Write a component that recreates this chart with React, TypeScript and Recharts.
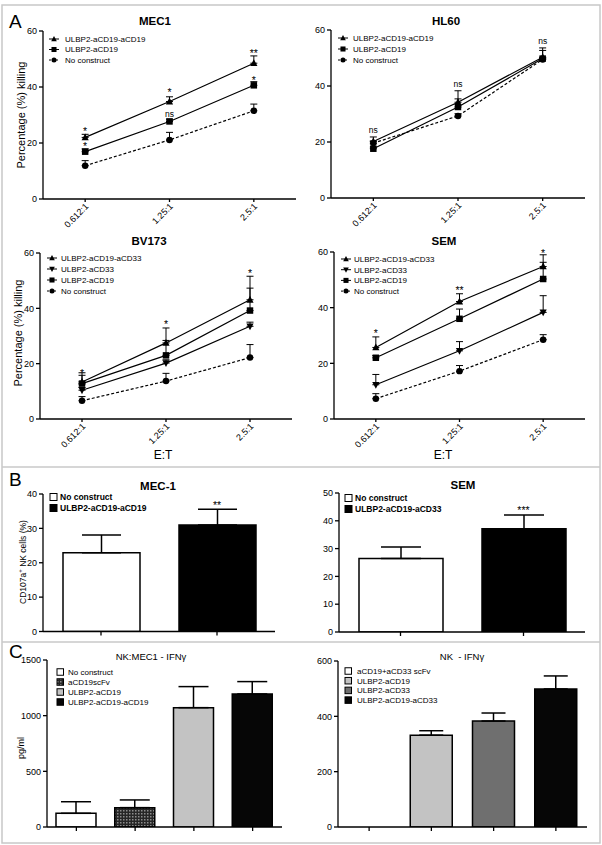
import React from 'react';
import { ComposedChart, Line, Bar, Cell, XAxis, YAxis, ErrorBar, LabelList, Legend } from 'recharts';

const FONT = '"Liberation Sans", Arial, Helvetica, sans-serif';

// ---------------- Panel A data ----------------
const etCategories = ['0.612:1', '1.25:1', '2.5:1'];

const mec1SeriesNames = ['ULBP2-aCD19-aCD19', 'ULBP2-aCD19', 'No construct'];
const mec1Trimer = [22.0, 34.8, 48.5];
const mec1TrimerErr = [1.1, 1.7, 2.6];
const mec1Ulbp19 = [16.9, 27.7, 40.6];
const mec1Ulbp19Err = [1.0, 0.8, 1.3];
const mec1NoConstruct = [11.9, 21.1, 31.5];
const mec1NoConstructErr = [1.8, 2.7, 2.4];
const mec1AnnTop = ['*', '*', '**'];
const mec1AnnTopY = [25.0, 38.9, 52.9];
const mec1AnnLow = ['*', 'ns', '*'];
const mec1AnnLowY = [19.6, 30.2, 43.2];

const hl60SeriesNames = ['ULBP2-aCD19-aCD19', 'ULBP2-aCD19', 'No construct'];
const hl60Trimer = [20.2, 34.2, 50.3];
const hl60TrimerErr = [1.6, 1.2, 3.3];
const hl60Ulbp19 = [17.6, 32.5, 49.8];
const hl60Ulbp19Err = [0.6, 5.8, 2.9];
const hl60NoConstruct = [19.6, 29.3, 49.5];
const hl60NoConstructErr = [0.8, 0.8, 0.6];
const hl60Ann = ['ns', 'ns', 'ns'];
const hl60AnnY = [24.0, 40.4, 55.8];

const bvSeriesNames = ['ULBP2-aCD19-aCD33', 'ULBP2-aCD33', 'ULBP2-aCD19', 'No construct'];
const bvTrimer = [13.4, 27.5, 43.1];
const bvTrimerErr = [3.3, 5.4, 8.5];
const bvUlbp33 = [10.4, 20.2, 33.5];
const bvUlbp33Err = [1.0, 1.2, 1.5];
const bvUlbp19 = [12.8, 23.0, 39.2];
const bvUlbp19Err = [3.0, 5.4, 8.1];
const bvNoConstruct = [6.6, 13.7, 22.2];
const bvNoConstructErr = [1.5, 2.8, 4.7];
const bvAnn = ['*', '*', '*'];
const bvAnnY = [17.6, 35.2, 53.6];

const semSeriesNames = ['ULBP2-aCD19-aCD33', 'ULBP2-aCD33', 'ULBP2-aCD19', 'No construct'];
const semTrimer = [25.7, 42.2, 54.8];
const semTrimerErr = [3.8, 2.8, 4.2];
const semUlbp33 = [12.3, 24.5, 38.3];
const semUlbp33Err = [3.7, 3.3, 6.0];
const semUlbp19 = [22.0, 36.0, 50.3];
const semUlbp19Err = [0.8, 3.5, 6.0];
const semNoConstruct = [7.3, 17.2, 28.5];
const semNoConstructErr = [1.8, 2.0, 1.8];
const semAnn = ['*', '**', '*'];
const semAnnY = [31.7, 47.1, 60.6];

const killingTicks = [0, 20, 40, 60];

// ---------------- Panel B data ----------------
const bMecCategories = ['No construct', 'ULBP2-aCD19-aCD19'];
const bMecValues = [22.9, 31.0];
const bMecErr = [5.2, 4.6];
const bMecAnn = ['', '**'];
const bMecAnnY = [null, 37.5];
const bMecTicks = [0, 10, 20, 30, 40];

const bSemCategories = ['No construct', 'ULBP2-aCD19-aCD33'];
const bSemValues = [26.4, 37.1];
const bSemErr = [4.2, 5.0];
const bSemAnn = ['', '***'];
const bSemAnnY = [null, 44.7];
const bSemTicks = [0, 10, 20, 30, 40, 50];

// ---------------- Panel C data ----------------
const cMecCategories = ['No construct', 'aCD19scFv', 'ULBP2-aCD19', 'ULBP2-aCD19-aCD19'];
const cMecValues = [123, 174, 1072, 1195];
const cMecErr = [104, 69, 189, 111];
const cMecTicks = [0, 500, 1000, 1500];

const cNkCategories = ['aCD19+aCD33 scFv', 'ULBP2-aCD19', 'ULBP2-aCD33', 'ULBP2-aCD19-aCD33'];
const cNkValues = [0, 332, 383, 499];
const cNkErr = [0, 16, 29, 47];
const cNkTicks = [0, 200, 400, 600];

const bFills = ['#ffffff', '#000000'];
const cMecFills = ['#ffffff', 'url(#checkerFill)', '#c3c3c3', '#060606'];
const cNkFills = ['#ffffff', '#c3c3c3', '#6f6f6f', '#060606'];

// ---------------- helpers ----------------
type Shape = 'tri' | 'inv' | 'sq' | 'circ';
interface LineSeries { name: string; shape: Shape; dashed?: boolean; values: number[]; errs: number[] }
interface AnnRow { labels: string[]; ys: (number | null)[] }

const AX = { stroke: '#000', strokeWidth: 1.3 };

function Marker({ cx, cy, shape, s = 3.6 }: { cx: number; cy: number; shape: Shape; s?: number }) {
  if (cx == null || cy == null || isNaN(cx) || isNaN(cy)) return null;
  switch (shape) {
    case 'tri':
      return <polygon points={`${cx},${cy - s * 1.1} ${cx - s},${cy + s * 0.8} ${cx + s},${cy + s * 0.8}`} fill="#000" />;
    case 'inv':
      return <polygon points={`${cx},${cy + s * 1.1} ${cx - s},${cy - s * 0.8} ${cx + s},${cy - s * 0.8}`} fill="#000" />;
    case 'sq':
      return <rect x={cx - s * 0.9} y={cy - s * 0.9} width={s * 1.8} height={s * 1.8} fill="#000" />;
    default:
      return <circle cx={cx} cy={cy} r={s * 0.9} fill="#000" />;
  }
}

const AnnLabel = (props: any) => {
  const { x, y, value } = props;
  if (!value || x == null || y == null || isNaN(y)) return null;
  const star = String(value).includes('*');
  const fs = star ? 10.5 : 8.5;
  const off = star ? 0.6 : 0.27;
  return (
    <text x={x} y={y + off * fs} textAnchor="middle" fontSize={fs} fontFamily={FONT} fill="#000" stroke="none">
      {value}
    </text>
  );
};

const RotTick = (props: any) => {
  const { x, y, payload } = props;
  const bx = x + 4;
  const by = y + 3;
  return (
    <text x={bx} y={by} transform={`rotate(-45 ${bx} ${by})`} textAnchor="end" fontSize={9} fontFamily={FONT} fill="#000">
      {payload.value}
    </text>
  );
};

const EmptyTick = () => <g />;

interface Box { left: number; top: number; width: number; height: number }
interface Plot { left: number; top: number; right: number; xh: number }

function LineLegendSvg({ w, h, items, mx, tx, y0, dy, fs }: any) {
  return (
    <svg width={w} height={h} style={{ overflow: 'visible', display: 'block' }}>
      {items.map((it: LineSeries, i: number) => {
        const y = y0 + i * dy;
        return (
          <g key={i}>
            <line x1={mx - 5} x2={mx + 5} y1={y} y2={y} stroke="#000" strokeWidth={1} strokeDasharray={it.dashed ? '2 1.5' : undefined} />
            <Marker cx={mx} cy={y} shape={it.shape} s={2.8} />
            <text x={tx} y={y} dy="0.35em" fontSize={fs} fontFamily={FONT} fill="#000">{it.name}</text>
          </g>
        );
      })}
    </svg>
  );
}

function BoxLegendSvg({ w, h, names, fills, bx, tx, y0, dy, fs, bs, bold }: any) {
  return (
    <svg width={w} height={h} style={{ overflow: 'visible', display: 'block' }}>
      {names.map((n: string, i: number) => {
        const y = y0 + i * dy;
        return (
          <g key={i}>
            <rect x={bx} y={y - bs / 2} width={bs} height={bs} fill={fills[i]} stroke="#000" strokeWidth={1} />
            <text x={tx} y={y} dy="0.35em" fontSize={fs} fontWeight={bold ? 'bold' : 'normal'} fontFamily={FONT} fill="#000">{n}</text>
          </g>
        );
      })}
    </svg>
  );
}

function KillingChart({ box, plot, series, anns, legend }: { box: Box; plot: Plot; series: LineSeries[]; anns: AnnRow[]; legend: any }) {
  const data = etCategories.map((c, i) => {
    const row: any = { cat: c };
    series.forEach((s, k) => {
      row['s' + k] = s.values[i];
      row['e' + k] = [0, s.errs[i]];
    });
    anns.forEach((a, k) => {
      row['a' + k] = a.ys[i];
      row['t' + k] = a.labels[i];
    });
    return row;
  });
  const order = series.map((s, k) => k).reverse();
  const plotW = box.width - plot.left - plot.right;
  const pad = plotW / (2 * etCategories.length);
  return (
    <div style={{ position: 'absolute', left: box.left, top: box.top }}>
      <ComposedChart width={box.width} height={box.height} data={data} margin={{ top: plot.top, right: plot.right, left: 0, bottom: 0 }}>
        <XAxis
          dataKey="cat"
          height={plot.xh}
          tickSize={3}
          tickMargin={2}
          axisLine={AX}
          tickLine={AX}
          tick={<RotTick />}
          interval={0}
          padding={{ left: pad, right: pad }}
        />
        <YAxis
          width={plot.left}
          domain={[0, 60]}
          ticks={killingTicks}
          allowDataOverflow
          tickSize={4}
          tickMargin={2}
          axisLine={AX}
          tickLine={AX}
          tick={{ fontSize: 9, fill: '#000', fontFamily: FONT }}
          interval={0}
        />
        {order.map((k) => {
          const s = series[k];
          return (
            <Line
              key={'s' + k}
              dataKey={'s' + k}
              name={s.name}
              stroke="#000"
              strokeWidth={1.2}
              strokeDasharray={s.dashed ? '3 2' : undefined}
              dot={(p: any) => <Marker key={`d${k}-${p.index}`} cx={p.cx} cy={p.cy} shape={s.shape} />}
              activeDot={false}
              isAnimationActive={false}
            >
              <ErrorBar dataKey={'e' + k} width={3.5} stroke="#000" strokeWidth={1} direction="y" />
            </Line>
          );
        })}
        {anns.map((a, k) => (
          <Line key={'a' + k} dataKey={'a' + k} stroke="none" dot={false} activeDot={false} isAnimationActive={false} legendType="none">
            <LabelList dataKey={'t' + k} content={AnnLabel} />
          </Line>
        ))}
        <Legend
          layout="vertical"
          align="center"
          verticalAlign="middle"
          wrapperStyle={{ left: 0, top: 0, width: box.width, height: box.height, pointerEvents: 'none' }}
          content={() => <LineLegendSvg w={box.width} h={box.height} items={series} {...legend} />}
        />
      </ComposedChart>
    </div>
  );
}

function BarPanel({ box, plot, cats, values, errs, fills, ann, annY, domain, ticks, barSize, capW, legend }: any) {
  const data = cats.map((c: string, i: number) => ({
    cat: c,
    v: values[i],
    e: [0, errs[i]],
    ay: annY ? annY[i] : null,
    at: ann ? ann[i] : '',
  }));
  return (
    <div style={{ position: 'absolute', left: box.left, top: box.top }}>
      <ComposedChart width={box.width} height={box.height} data={data} margin={{ top: plot.top, right: plot.right, left: 0, bottom: 0 }}>
        <XAxis dataKey="cat" height={plot.xh} tickSize={4} axisLine={AX} tickLine={AX} tick={EmptyTick} interval={0} />
        <YAxis
          width={plot.left}
          domain={domain}
          ticks={ticks}
          allowDataOverflow
          tickSize={4}
          tickMargin={2}
          axisLine={AX}
          tickLine={AX}
          tick={{ fontSize: 9, fill: '#000', fontFamily: FONT }}
          interval={0}
        />
        <Bar dataKey="v" barSize={barSize} stroke="#000" strokeWidth={1.5} isAnimationActive={false}>
          {fills.map((f: string, i: number) => (
            <Cell key={i} fill={f} />
          ))}
          <ErrorBar dataKey="e" width={capW} stroke="#000" strokeWidth={1.5} direction="y" />
        </Bar>
        {ann && (
          <Line dataKey="ay" stroke="none" dot={false} activeDot={false} isAnimationActive={false} legendType="none">
            <LabelList dataKey="at" content={AnnLabel} />
          </Line>
        )}
        <Legend
          layout="vertical"
          align="center"
          verticalAlign="middle"
          wrapperStyle={{ left: 0, top: 0, width: box.width, height: box.height, pointerEvents: 'none' }}
          content={() => <BoxLegendSvg w={box.width} h={box.height} names={cats} fills={fills} {...legend} />}
        />
      </ComposedChart>
    </div>
  );
}

// ---------------- overlay text ----------------
const panelLetters = [
  { t: 'A', x: 9, y: 28 },
  { t: 'B', x: 9, y: 486 },
  { t: 'C', x: 9, y: 658 },
];
const boldTitles = [
  { t: 'MEC1', x: 155, y: 25 },
  { t: 'HL60', x: 446, y: 25 },
  { t: 'BV173', x: 149, y: 245 },
  { t: 'SEM', x: 444, y: 245 },
  { t: 'MEC-1', x: 158, y: 490 },
  { t: 'SEM', x: 463, y: 489 },
];
const plainTitles = [
  { t: 'NK:MEC1 - IFNγ', x: 151, y: 660 },
  { t: 'NK  - IFNγ', x: 462, y: 660 },
];
const etLabels = [
  { t: 'E:T', x: 163, y: 459 },
  { t: 'E:T', x: 443, y: 459 },
];
const killingLabel = 'Percentage (%) killing';

export default function App() {
  const mec1: LineSeries[] = [
    { name: mec1SeriesNames[0], shape: 'tri', values: mec1Trimer, errs: mec1TrimerErr },
    { name: mec1SeriesNames[1], shape: 'sq', values: mec1Ulbp19, errs: mec1Ulbp19Err },
    { name: mec1SeriesNames[2], shape: 'circ', dashed: true, values: mec1NoConstruct, errs: mec1NoConstructErr },
  ];
  const hl60: LineSeries[] = [
    { name: hl60SeriesNames[0], shape: 'tri', values: hl60Trimer, errs: hl60TrimerErr },
    { name: hl60SeriesNames[1], shape: 'sq', values: hl60Ulbp19, errs: hl60Ulbp19Err },
    { name: hl60SeriesNames[2], shape: 'circ', dashed: true, values: hl60NoConstruct, errs: hl60NoConstructErr },
  ];
  const bv: LineSeries[] = [
    { name: bvSeriesNames[0], shape: 'tri', values: bvTrimer, errs: bvTrimerErr },
    { name: bvSeriesNames[1], shape: 'inv', values: bvUlbp33, errs: bvUlbp33Err },
    { name: bvSeriesNames[2], shape: 'sq', values: bvUlbp19, errs: bvUlbp19Err },
    { name: bvSeriesNames[3], shape: 'circ', dashed: true, values: bvNoConstruct, errs: bvNoConstructErr },
  ];
  const sem: LineSeries[] = [
    { name: semSeriesNames[0], shape: 'tri', values: semTrimer, errs: semTrimerErr },
    { name: semSeriesNames[1], shape: 'inv', values: semUlbp33, errs: semUlbp33Err },
    { name: semSeriesNames[2], shape: 'sq', values: semUlbp19, errs: semUlbp19Err },
    { name: semSeriesNames[3], shape: 'circ', dashed: true, values: semNoConstruct, errs: semNoConstructErr },
  ];

  return (
    <div style={{ position: 'absolute', left: 0, top: 0, width: 602, height: 845, background: '#fff', fontFamily: FONT }}>
      <svg width={602} height={845} style={{ position: 'absolute', left: 0, top: 0 }}>
        <defs>
          <pattern id="checkerFill" width="3" height="3" patternUnits="userSpaceOnUse">
            <rect width="3" height="3" fill="#262626" />
            <rect width="1.5" height="1.5" fill="#8c8c8c" />
          </pattern>
        </defs>
        <rect x={2} y={5} width={598} height={838} fill="none" stroke="#c8c8c8" strokeWidth={1.5} />
        <line x1={2} x2={600} y1={467} y2={467} stroke="#c8c8c8" strokeWidth={1.5} />
        <line x1={2} x2={600} y1={642} y2={642} stroke="#c8c8c8" strokeWidth={1.5} />
        {panelLetters.map((p, i) => (
          <text key={'p' + i} x={p.x} y={p.y} fontSize={19} fontFamily={FONT} fill="#000">{p.t}</text>
        ))}
        {boldTitles.map((p, i) => (
          <text key={'b' + i} x={p.x} y={p.y} fontSize={11.5} fontWeight="bold" textAnchor="middle" fontFamily={FONT} fill="#000">{p.t}</text>
        ))}
        {plainTitles.map((p, i) => (
          <text key={'c' + i} x={p.x} y={p.y} fontSize={9.5} textAnchor="middle" fontFamily={FONT} fill="#000" style={{ whiteSpace: 'pre' }}>{p.t}</text>
        ))}
        {etLabels.map((p, i) => (
          <text key={'e' + i} x={p.x} y={p.y} fontSize={12} textAnchor="middle" fontFamily={FONT} fill="#000">{p.t}</text>
        ))}
        <text x={25} y={115} transform="rotate(-90 25 115)" fontSize={11} textAnchor="middle" fontFamily={FONT} fill="#000">{killingLabel}</text>
        <text x={22} y={333} transform="rotate(-90 22 333)" fontSize={11} textAnchor="middle" fontFamily={FONT} fill="#000">{killingLabel}</text>
        <text x={26} y={562} transform="rotate(-90 26 562)" fontSize={8.5} textAnchor="middle" fontFamily={FONT} fill="#000">
          CD107a<tspan fontSize={6} dy={-4}>+</tspan>
          <tspan dy={4}> NK cells (%)</tspan>
        </text>
        <text x={24} y={748} transform="rotate(-90 24 748)" fontSize={9} textAnchor="middle" fontFamily={FONT} fill="#000">pg/ml</text>
      </svg>

      <KillingChart
        box={{ left: 0, top: 0, width: 300, height: 230 }}
        plot={{ left: 43, top: 31, right: 4, xh: 31 }}
        series={mec1}
        anns={[{ labels: mec1AnnTop, ys: mec1AnnTopY }, { labels: mec1AnnLow, ys: mec1AnnLowY }]}
        legend={{ mx: 54, tx: 65, y0: 39, dy: 10.5, fs: 8 }}
      />
      <KillingChart
        box={{ left: 300, top: 0, width: 302, height: 230 }}
        plot={{ left: 31, top: 30, right: 17, xh: 32 }}
        series={hl60}
        anns={[{ labels: hl60Ann, ys: hl60AnnY }]}
        legend={{ mx: 43, tx: 53, y0: 38, dy: 11, fs: 8 }}
      />
      <KillingChart
        box={{ left: 0, top: 230, width: 300, height: 237 }}
        plot={{ left: 40, top: 23, right: 8, xh: 48 }}
        series={bv}
        anns={[{ labels: bvAnn, ys: bvAnnY }]}
        legend={{ mx: 52, tx: 61, y0: 28, dy: 11, fs: 8 }}
      />
      <KillingChart
        box={{ left: 300, top: 230, width: 302, height: 237 }}
        plot={{ left: 34, top: 22, right: 17, xh: 48 }}
        series={sem}
        anns={[{ labels: semAnn, ys: semAnnY }]}
        legend={{ mx: 46, tx: 54, y0: 29, dy: 10.7, fs: 8 }}
      />

      <BarPanel
        box={{ left: 0, top: 467, width: 300, height: 175 }}
        plot={{ left: 43, top: 27, right: 25, xh: 10.5 }}
        cats={bMecCategories}
        values={bMecValues}
        errs={bMecErr}
        fills={bFills}
        ann={bMecAnn}
        annY={bMecAnnY}
        domain={[0, 40]}
        ticks={bMecTicks}
        barSize={77}
        capW={19.5}
        legend={{ bx: 50, tx: 60, y0: 30, dy: 11, fs: 8.5, bs: 7, bold: true }}
      />
      <BarPanel
        box={{ left: 300, top: 467, width: 302, height: 175 }}
        plot={{ left: 39, top: 26, right: 17, xh: 10 }}
        cats={bSemCategories}
        values={bSemValues}
        errs={bSemErr}
        fills={bFills}
        ann={bSemAnn}
        annY={bSemAnnY}
        domain={[0, 50]}
        ticks={bSemTicks}
        barSize={84}
        capW={20}
        legend={{ bx: 45, tx: 55, y0: 31, dy: 11, fs: 8.5, bs: 7, bold: true }}
      />

      <BarPanel
        box={{ left: 0, top: 642, width: 300, height: 201 }}
        plot={{ left: 47, top: 18, right: 18, xh: 16 }}
        cats={cMecCategories}
        values={cMecValues}
        errs={cMecErr}
        fills={cMecFills}
        domain={[0, 1500]}
        ticks={cMecTicks}
        barSize={40}
        capW={15}
        legend={{ bx: 57, tx: 68, y0: 30, dy: 10, fs: 8, bs: 6.5, bold: false }}
      />
      <BarPanel
        box={{ left: 300, top: 642, width: 302, height: 201 }}
        plot={{ left: 38, top: 19, right: 15, xh: 16 }}
        cats={cNkCategories}
        values={cNkValues}
        errs={cNkErr}
        fills={cNkFills}
        domain={[0, 600]}
        ticks={cNkTicks}
        barSize={42}
        capW={12}
        legend={{ bx: 45, tx: 57, y0: 29, dy: 9.7, fs: 8, bs: 6.5, bold: false }}
      />
    </div>
  );
}
